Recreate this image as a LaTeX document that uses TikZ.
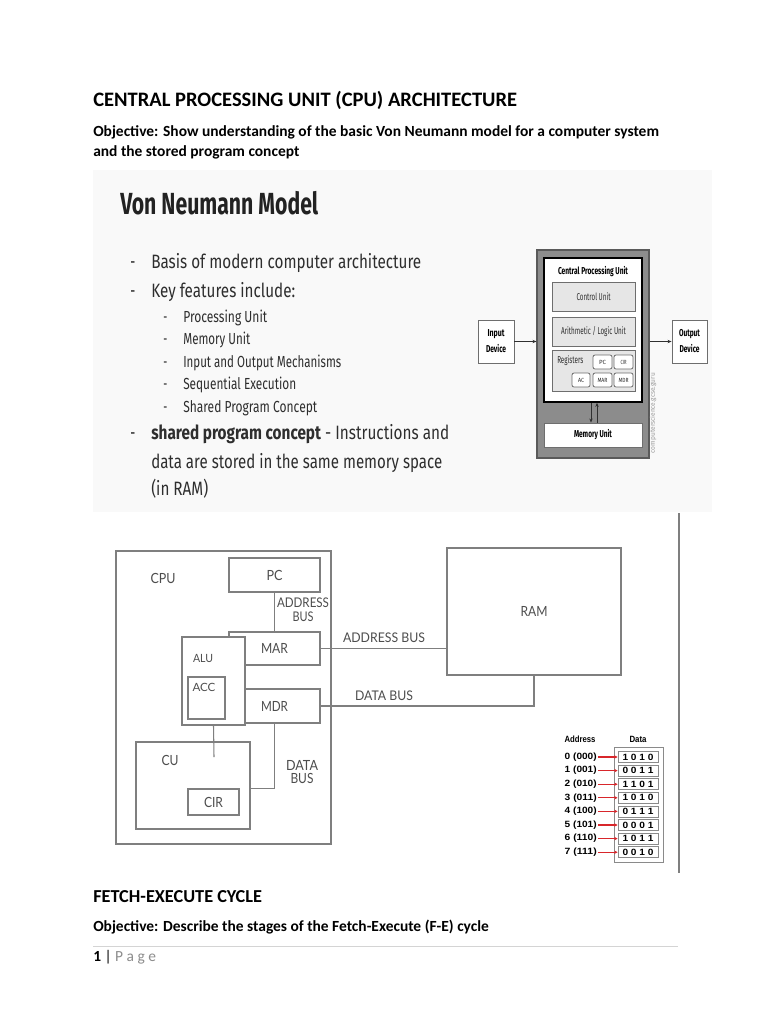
\documentclass[tikz,border=0pt]{standalone}
\usepackage{fontspec}
\usepackage{graphicx}
\setmainfont{Carlito}
\newfontfamily\slidefont{Fira Sans}
\newfontfamily\diagfont{Lato}
\newfontfamily\tabfont{Liberation Sans}
\usetikzlibrary{arrows.meta,calc}
\newlength\pxu \setlength\pxu{0.75pt}
\newcommand\fitw[2]{\resizebox{#1\pxu}{\height}{#2}}
\newcommand\lowfont{\diagfont\fontsize{10.5}{12}\selectfont}
\newcommand\lowsmall{\diagfont\fontsize{8.5}{10}\selectfont}
\newcommand\vnfont{\slidefont\fontsize{7.5}{8.25}\selectfont}
\newcommand\vntiny{\slidefont\fontsize{4.5}{5}\selectfont}
\newcommand\tabf{\tabfont\bfseries\fontsize{6.8}{8}\selectfont}
\definecolor{slidetxt}{HTML}{2E2E2E}
\definecolor{slidetitle}{HTML}{222222}
\definecolor{slidebg}{HTML}{F9F9F9}
\definecolor{ltext}{HTML}{4D4D4D}
\definecolor{lline}{HTML}{7F7F7F}
\definecolor{vngray}{HTML}{8C8C8C}
\definecolor{vnbord}{HTML}{5A5A5A}
\definecolor{vnunitf}{HTML}{E6E6E6}
\definecolor{vnunitb}{HTML}{6E6E6E}
\definecolor{vntext}{HTML}{2E2E2E}
\definecolor{vnarrc}{HTML}{303030}
\definecolor{wmgray}{HTML}{9A9A9A}
\definecolor{tline}{HTML}{8A8A8A}
\definecolor{tred}{HTML}{D8262B}
\definecolor{rulegray}{HTML}{D4D4D4}
\definecolor{pagegray}{HTML}{8C8C8C}
\begin{document}
\begin{tikzpicture}[x=0.75pt,y=-0.75pt]
\tikzset{
 doc/.style={anchor=base west, inner sep=0pt, text=black},
 sl/.style={anchor=base west, inner sep=0pt, text=slidetxt},
 lbox/.style={draw=lline, line width=0.8pt, fill=white, inner sep=0pt, text=ltext},
 ltx/.style={inner sep=0pt, text=ltext, align=center},
 lwire/.style={draw=lline, line width=0.8pt},
 vnshade/.style={draw=vnbord, fill=vngray, line width=0.8pt, inner sep=0pt},
 vnwhite/.style={draw=black, fill=white, line width=1.3pt, inner sep=0pt},
 vnunit/.style={draw=vnunitb, fill=vnunitf, line width=0.6pt, inner sep=0pt, text=vntext},
 vnreg/.style={draw=vnunitb, fill=white, rounded corners=1.5pt, line width=0.6pt, inner sep=0pt, text=vntext},
 vndev/.style={draw=vnunitb, fill=white, line width=0.7pt, inner sep=0pt, align=center, text=black},
 vnarr/.style={-{Stealth[length=3pt,width=2.5pt]}, line width=0.6pt, draw=vnarrc},
 tcell/.style={draw=tline, fill=white, line width=0.6pt, minimum width=40\pxu, minimum height=11\pxu, inner sep=0pt},
 tlab/.style={inner sep=0pt, anchor=east},
 redarr/.style={draw=tred, line width=0.8pt, -{Stealth[length=2.5pt,width=2.5pt]}},
}
\useasboundingbox (0,0) rectangle (768,1024);
\fill[white] (0,0) rectangle (768,1024);
% slide background
\fill[slidebg] (93,170) rectangle (712,512);

% ---------- document text ----------
\node[doc, font=\bfseries\fontsize{15.4}{17}\selectfont] (title) at (93,106) {CENTRAL PROCESSING UNIT (CPU) ARCHITECTURE};
\node[doc, font=\bfseries\fontsize{11.6}{13}\selectfont] (obj1) at (93,136) {Objective: Show understanding of the basic Von Neumann model for a computer system};
\node[doc, font=\bfseries\fontsize{11.6}{13}\selectfont] (obj2) at (93,156) {and the stored program concept};
\node[doc, font=\bfseries\fontsize{13.7}{15}\selectfont] (fe) at (93,902) {FETCH-EXECUTE CYCLE};
\node[doc, font=\bfseries\fontsize{11.6}{13}\selectfont] (obj3) at (93,931) {Objective: Describe the stages of the Fetch-Execute (F-E) cycle};
\coordinate (rule1) at (93,946);
\coordinate (rule2) at (678,946);
\draw[rulegray, line width=0.6pt] (rule1) -- (rule2);
\node[doc, font=\fontsize{11.6}{13}\selectfont] (pg) at (93,961) {\textbf{1} | \textcolor{pagegray}{P a g e}};

% ---------- slide text ----------
\node[sl, text=slidetitle] (vnm) at (120,214) {\fitw{198}{\slidefont\bfseries\fontsize{22.9}{25}\selectfont Von Neumann Model}};
\node[sl] (dA) at (130,268) {\fitw{5}{\slidefont\fontsize{14.5}{16}\selectfont -}};
\node[sl] (tA) at (151,268) {\fitw{270}{\slidefont\fontsize{14.5}{16}\selectfont Basis of modern computer architecture}};
\node[sl] (dB) at (130,297) {\fitw{5}{\slidefont\fontsize{14.5}{16}\selectfont -}};
\node[sl] (tB) at (151,297) {\fitw{144}{\slidefont\fontsize{14.5}{16}\selectfont Key features include:}};
\node[sl] (s1d) at (163,322) {\fitw{4}{\slidefont\fontsize{12}{14}\selectfont -}};
\node[sl] (s1) at (183,322) {\fitw{84}{\slidefont\fontsize{12}{14}\selectfont Processing Unit}};
\node[sl] (s2d) at (163,344) {\fitw{4}{\slidefont\fontsize{12}{14}\selectfont -}};
\node[sl] (s2) at (183,344) {\fitw{67}{\slidefont\fontsize{12}{14}\selectfont Memory Unit}};
\node[sl] (s3d) at (163,367) {\fitw{4}{\slidefont\fontsize{12}{14}\selectfont -}};
\node[sl] (s3) at (183,367) {\fitw{158}{\slidefont\fontsize{12}{14}\selectfont Input and Output Mechanisms}};
\node[sl] (s4d) at (163,389) {\fitw{4}{\slidefont\fontsize{12}{14}\selectfont -}};
\node[sl] (s4) at (183,389) {\fitw{113}{\slidefont\fontsize{12}{14}\selectfont Sequential Execution}};
\node[sl] (s5d) at (163,412) {\fitw{4}{\slidefont\fontsize{12}{14}\selectfont -}};
\node[sl] (s5) at (183,412) {\fitw{134}{\slidefont\fontsize{12}{14}\selectfont Shared Program Concept}};
\node[sl] (dC) at (130,439) {\fitw{5}{\slidefont\fontsize{14.5}{16}\selectfont -}};
\node[sl] (tC) at (151,439) {\fitw{298}{\slidefont\fontsize{14.5}{16}\selectfont \textbf{shared program concept} - Instructions and}};
\node[sl] (tD) at (151,468) {\fitw{291}{\slidefont\fontsize{14.5}{16}\selectfont data are stored in the same memory space}};
\node[sl] (tE) at (151,495) {\fitw{57}{\slidefont\fontsize{14.5}{16}\selectfont (in RAM)}};

% ---------- Von Neumann block diagram ----------
\node[vnshade, minimum width=112\pxu, minimum height=208\pxu] (vnouter) at (593,354) {};
\node[vnwhite, minimum width=98\pxu, minimum height=144\pxu] (vncpu) at (593,330) {};
\node[inner sep=0pt, text=black] (vncpul) at (593,272) {\fitw{70}{\vnfont\bfseries Central Processing Unit}};
\node[vnunit, minimum width=83\pxu, minimum height=29\pxu] (cunit) at (593.5,296.5) {\fitw{34}{\vnfont Control Unit}};
\node[vnunit, minimum width=83\pxu, minimum height=29\pxu] (aunit) at (593.5,331.5) {\fitw{65}{\vnfont Arithmetic / Logic Unit}};
\node[vnunit, minimum width=83\pxu, minimum height=41\pxu] (regs) at (593.5,370.5) {};
\node[inner sep=0pt, anchor=west, text=vntext] (regsl) at (557,361) {\fitw{26}{\vnfont Registers}};
\node[vnreg, minimum width=19\pxu, minimum height=14\pxu] (rpc) at (602.5,362) {\fitw{7}{\vntiny PC}};
\node[vnreg, minimum width=19\pxu, minimum height=14\pxu] (rcir) at (623.5,362) {\fitw{6}{\vntiny CIR}};
\node[vnreg, minimum width=18\pxu, minimum height=14\pxu] (rac) at (581,380) {\fitw{6}{\vntiny AC}};
\node[vnreg, minimum width=19\pxu, minimum height=14\pxu] (rmar) at (602.5,380) {\fitw{10}{\vntiny MAR}};
\node[vnreg, minimum width=19\pxu, minimum height=14\pxu] (rmdr) at (623.5,380) {\fitw{10}{\vntiny MDR}};
\node[draw=vnunitb, fill=white, line width=0.7pt, inner sep=0pt, minimum width=98\pxu, minimum height=24\pxu, text=black] (memu) at (593,435) {\fitw{38}{\vnfont\bfseries Memory Unit}};
\draw[vnarr] ([xshift=-2\pxu]vncpu.south) -- ([xshift=-2\pxu]memu.north);
\draw[vnarr] ([xshift=4\pxu]memu.north) -- ([xshift=4\pxu]vncpu.south);
\node[vndev, minimum width=36\pxu, minimum height=43\pxu] (indev) at (496,341.5) {\fitw{17}{\vnfont\bfseries Input}\\\fitw{20}{\vnfont\bfseries Device}};
\node[vndev, minimum width=35\pxu, minimum height=43\pxu] (outdev) at (689.5,341.5) {\fitw{21}{\vnfont\bfseries Output}\\\fitw{20}{\vnfont\bfseries Device}};
\draw[vnarr] (indev.east) -- (indev.east -| vnouter.west);
\draw[vnarr] (outdev.west -| vnouter.east) -- (outdev.west);
\node[rotate=90, inner sep=0pt, text=wmgray] (wm) at (653,413) {\fitw{80}{\slidefont\fontsize{5}{6}\selectfont computerscience.gcse.guru}};

% ---------- lower CPU / RAM diagram ----------
\node[lbox, minimum width=215\pxu, minimum height=293\pxu] (cpu) at (223.5,697.5) {};
\node[ltx] (cpul) at (163,578) {\fitw{25}{\lowfont CPU}};
\node[lbox, minimum width=91\pxu, minimum height=34\pxu] (pc) at (274.5,575) {\fitw{16}{\lowfont PC}};
\node[lbox, minimum width=91\pxu, minimum height=33\pxu] (mar) at (274.5,648.5) {\fitw{27}{\lowfont MAR}};
\node[lbox, minimum width=91\pxu, minimum height=34\pxu] (mdr) at (274.5,706) {\fitw{27}{\lowfont MDR}};
\node[lbox, minimum width=63\pxu, minimum height=88\pxu] (alu) at (213.5,681) {};
\node[ltx] (alul) at (203,658) {\fitw{20}{\lowsmall ALU}};
\node[lbox, minimum width=37\pxu, minimum height=42\pxu] (acc) at (206.5,698) {};
\node[ltx] (accl) at (204,687) {\fitw{23}{\lowsmall ACC}};
\node[lbox, minimum width=114\pxu, minimum height=87\pxu] (cu) at (193,785.5) {};
\node[ltx] (cul) at (170,760) {\fitw{17}{\lowfont CU}};
\node[lbox, minimum width=51\pxu, minimum height=26\pxu] (cir) at (213.5,802) {\fitw{19}{\lowfont CIR}};
\node[lbox, minimum width=174\pxu, minimum height=127\pxu] (ram) at (534,611.5) {\fitw{27}{\lowfont RAM}};
\coordinate (aluend) at (214,757);
\draw[lwire] (alu.south) -- (aluend);
\draw[lwire] (pc.south) -- (mar.north);
\draw[lwire] (mdr.south) |- (cu.east |- cir.north);
\draw[lwire] (mar.east) -- (mar.east -| ram.west);
\draw[lwire] (mdr.east) -| (ram.south);
\node[ltx, font=\diagfont\fontsize{10}{10.5}\selectfont] (abus1) at (303,610) {\fitw{52}{ADDRESS}\\\fitw{21}{BUS}};
\node[ltx, font=\diagfont\fontsize{10.5}{9.75}\selectfont] (dbus1) at (302,772.5) {\fitw{32}{DATA}\\\fitw{23}{BUS}};
\node[ltx] (abus2) at (384,638) {\fitw{82}{\diagfont\fontsize{10}{12}\selectfont ADDRESS BUS}};
\node[ltx] (dbus2) at (384,696) {\fitw{58}{\diagfont\fontsize{10}{12}\selectfont DATA BUS}};
\coordinate (vl1) at (679,513);
\coordinate (vl2) at (679,873);
\draw[lline, line width=0.9pt] (vl1) -- (vl2);

% ---------- memory table ----------
\node[inner sep=0pt] (addrh) at (580,739) {\fitw{31}{\tabf Address}};
\node[inner sep=0pt] (datah) at (638,739) {\fitw{17}{\tabf Data}};
\node[draw=tline, fill=white, line width=0.7pt, minimum width=49\pxu, minimum height=115\pxu, inner sep=0pt] (memtab) at (638.5,804.5) {};
\foreach \i/\ad/\dv in {0/000/1 0 1 0,1/001/0 0 1 1,2/010/1 1 0 1,3/011/1 0 1 0,4/100/0 1 1 1,5/101/0 0 0 1,6/110/1 0 1 1,7/111/0 0 1 0}{
  \node[tcell] (d\i) at (638,{757+\i*13.6}) {\fitw{31}{\tabf \dv}};
  \node[tlab] (a\i) at (597,{757+\i*13.6}) {\fitw{32}{\tabf \i\ (\ad)}};
  \draw[redarr] ([xshift=1\pxu]a\i.east) -- (d\i.west);
}
\end{tikzpicture}
\end{document}
